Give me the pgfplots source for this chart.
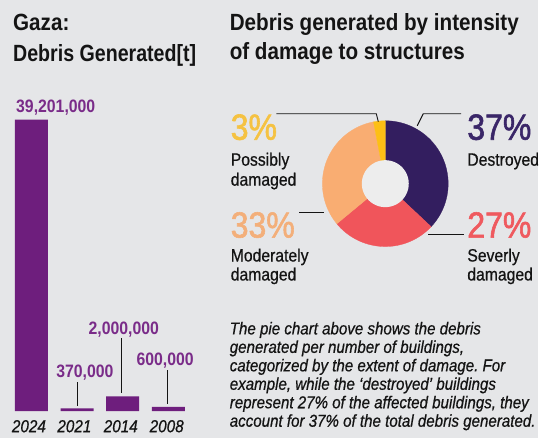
\documentclass[border=0pt]{standalone}
\usepackage{pgfplots}
\pgfplotsset{compat=1.18}
\usepackage{fontspec}
\setmainfont[FakeStretch=0.88]{Liberation Sans}
\newfontfamily\medfont[FakeStretch=0.88,FakeBold=1.6]{Liberation Sans}
\newfontfamily\semifont[FakeStretch=0.88,FakeBold=0.6]{Liberation Sans}
\frenchspacing
\definecolor{bg}{HTML}{E5E6E8}
\definecolor{barp}{HTML}{6E1E7D}
\definecolor{labp}{HTML}{7A2C89}
\definecolor{cDes}{HTML}{331E5F}
\definecolor{cSev}{HTML}{F0555B}
\definecolor{cMod}{HTML}{F9AD72}
\definecolor{cPos}{HTML}{FDBF15}
\definecolor{cIn}{HTML}{EDEDED}
\definecolor{tDes}{HTML}{3A2668}
\definecolor{tSev}{HTML}{EF5A5F}
\definecolor{tMod}{HTML}{F3AF7A}
\definecolor{tPos}{HTML}{F5C242}
\definecolor{ink}{HTML}{141414}
\def\pDes{37}\def\pSev{27}\def\pMod{33}\def\pPos{3}
\begin{document}
\frenchspacing
\begin{tikzpicture}
\fill[bg] (0pt,0pt) rectangle (539pt,439pt);
% ---------- bar chart ----------
\begin{axis}[at={(8.65pt,27pt)}, anchor=south west, scale only axis,
  width=182.8pt, height=298pt, xmin=-0.5, xmax=3.5, ymin=0, ymax=40000000,
  axis lines=none, ybar, bar width=33pt, clip=false]
\addplot[fill=barp, draw=none, bar shift=0pt] coordinates {(0,39201000) (1,370000) (2,2000000) (3,600000)};
\end{axis}
\tikzset{
  ttl/.style={anchor=base west, inner sep=0pt, text=ink, font=\fontsize{23.5}{26}\selectfont\bfseries},
  val/.style={anchor=base, inner sep=0pt, text=labp, font=\fontsize{18}{20}\selectfont\bfseries},
  yr/.style={anchor=base, inner sep=0pt, text=ink, font=\semifont\fontsize{17.4}{20}\selectfont\itshape},
  big/.style={anchor=base west, inner sep=0pt, font=\medfont\fontsize{36.4}{40}\selectfont},
  lab/.style={anchor=base west, inner sep=0pt, text=ink, font=\semifont\fontsize{17.9}{20}\selectfont},
  par/.style={anchor=base west, inner sep=0pt, text=ink, font=\semifont\fontsize{17.2}{19}\selectfont\itshape\frenchspacing},
}
\node[ttl] at (13pt,408pt) {Gaza:};
\node[ttl] at (13pt,377pt) {\scalebox{0.95}[1]{Debris Generated[t]}};
\node[ttl] at (230pt,408pt) {Debris generated by intensity};
\node[ttl] at (230pt,379pt) {of damage to structures};
% value labels
\node[val, anchor=base west] at (16pt,326pt) {39,201,000};
\node[val] at (85pt,61pt) {370,000};
\node[val] at (124pt,104pt) {2,000,000};
\node[val] at (165.5pt,73pt) {600,000};
\draw[ink, line width=1pt] (78pt,56pt) -- (78pt,32pt);
\draw[ink, line width=1pt] (122pt,100pt) -- (122pt,45pt);
\draw[ink, line width=1pt] (168pt,68pt) -- (168pt,34pt);
% year labels
\node[yr] at (29pt,6pt) {2024};
\node[yr] at (74.5pt,6pt) {2021};
\node[yr] at (121pt,6pt) {2014};
\node[yr] at (167pt,6pt) {2008};
% ---------- donut ----------
\begin{axis}[at={(386pt,255pt)}, anchor=center, scale only axis,
  width=140pt, height=140pt, xmin=-70, xmax=70, ymin=-70, ymax=70,
  axis lines=none, clip=false]
\addplot[fill=cDes, draw=cDes, line width=0.3pt, domain={90-3.6*\pDes}:90, samples=80] ({63*cos(x)},{63*sin(x)}) -- (axis cs:0,0) -- cycle;
\addplot[fill=cSev, draw=cSev, line width=0.3pt, domain={90-3.6*(\pDes+\pSev)}:{90-3.6*\pDes}, samples=80] ({63*cos(x)},{63*sin(x)}) -- (axis cs:0,0) -- cycle;
\addplot[fill=cMod, draw=cMod, line width=0.3pt, domain={90-3.6*(\pDes+\pSev+\pMod)}:{90-3.6*(\pDes+\pSev)}, samples=80] ({63*cos(x)},{63*sin(x)}) -- (axis cs:0,0) -- cycle;
\addplot[fill=cPos, draw=cPos, line width=0.3pt, domain={90-3.6*(\pDes+\pSev+\pMod+\pPos)}:{90-3.6*(\pDes+\pSev+\pMod)}, samples=20] ({63*cos(x)},{63*sin(x)}) -- (axis cs:0,0) -- cycle;
\addplot[fill=cIn, draw=none, domain=0:360, samples=120] ({23.5*cos(x)},{23.5*sin(x)}) -- cycle;
\end{axis}
% leader lines
\draw[ink, line width=0.9pt] (277pt,325pt) -- (377pt,325pt) -- (379pt,317pt);
\draw[ink, line width=0.9pt] (462pt,325pt) -- (424pt,325pt) -- (418pt,313pt);
\draw[ink, line width=0.9pt] (300pt,226pt) -- (325pt,226pt);
\draw[ink, line width=0.9pt] (429pt,204pt) -- (465pt,204pt);
% pie labels
\node[big, text=tPos] at (231pt,299pt) {3\%};
\node[lab] at (231pt,273pt) {Possibly};
\node[lab] at (231pt,253pt) {damaged};
\node[big, text=tMod] at (231pt,201pt) {33\%};
\node[lab] at (231pt,177pt) {Moderately};
\node[lab] at (231pt,158pt) {damaged};
\node[big, text=tDes] at (468pt,299pt) {37\%};
\node[lab] at (468pt,273pt) {Destroyed};
\node[big, text=tSev] at (468pt,201pt) {27\%};
\node[lab] at (468pt,177pt) {Severly};
\node[lab] at (468pt,158pt) {damaged};
% paragraph
\node[par] at (230pt,104pt) {The pie chart above shows the debris};
\node[par] at (230pt,85.5pt) {generated per number of buildings,};
\node[par] at (230pt,67pt) {categorized by the extent of damage. For};
\node[par] at (230pt,48.5pt) {example, while the ‘destroyed’ buildings};
\node[par] at (230pt,30pt) {represent 27\% of the affected buildings, they};
\node[par] at (230pt,11.5pt) {account for 37\% of the total debris generated.};
\end{tikzpicture}
\end{document}
